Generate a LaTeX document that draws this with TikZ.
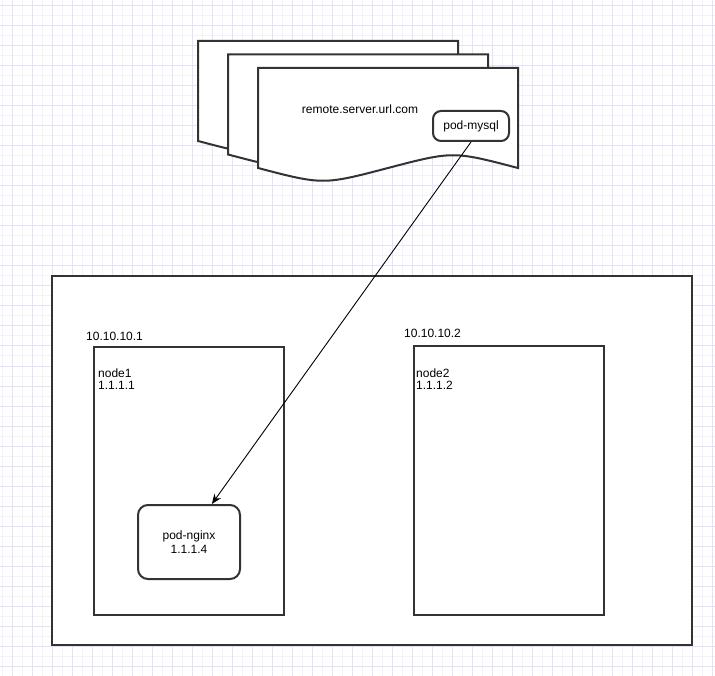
\documentclass[tikz,border=0pt]{standalone}
\usepackage{fontspec}
\setmainfont{Liberation Sans}
\usepackage{tikz}
\usetikzlibrary{
  arrows.meta,
  calc
}
\definecolor{gridmaj}{RGB}{226, 226, 250}
\definecolor{gridmin}{RGB}{242, 242, 252}
\definecolor{boxline}{RGB}{51, 51, 51}
\tikzset{
  % Background grid
  gridminor/.style = {draw=gridmin, line width=1pt},
  gridmajor/.style = {draw=gridmaj, line width=1pt},
  % Boxes
  hostbox/.style   = {draw=boxline, line width=2pt, fill=white, inner sep=0pt},
  podbox/.style    = {draw=boxline, line width=2pt, fill=white, rounded corners=10pt,
                      inner sep=0pt, align=center, font=\fontsize{12}{14}\selectfont},
  docsheet/.style  = {draw=boxline, line width=2pt, fill=white, line join=miter},
  % Arrow
  linkarrow/.style = {-{Stealth[length=10pt, width=8pt]}, line width=0.9pt, black},
  % Labels
  lab/.style       = {font=\fontsize{12}{12.5}\selectfont, inner sep=0pt, align=left},
}
\begin{document}
\begin{tikzpicture}[x=1pt, y=-1pt]
  \fill[white] (0,0) rectangle (715,676);
  \useasboundingbox (0,0) rectangle (715,676);
  % Grid
  \foreach \x in {2.7,22.7,...,715} \draw[gridminor] (\x,0) -- (\x,676);
  \foreach \y in {16,36,...,676} \draw[gridminor] (0,\y) -- (715,\y);
  \foreach \x in {12.7,32.7,...,715} \draw[gridmajor] (\x,0) -- (\x,676);
  \foreach \y in {6,26,...,676} \draw[gridmajor] (0,\y) -- (715,\y);
  % Remote server pages
  \foreach \dx/\dy in {-60/-27, -30/-13.5, 0/0}
    \draw[docsheet, shift={(\dx,\dy)}] (258,68) -- (518,68) -- (518,168)
      .. controls (453,151) .. (388,168) .. controls (323,185) .. (258,168) -- cycle;
  \node[lab, anchor=base] (remote) at (360,114) {remote.server.url.com};
  \node[podbox, minimum width=76pt, minimum height=30pt, rounded corners=8pt] (mysql)
    at (471,126) {pod-mysql};
  % Cluster and hosts
  \node[hostbox, minimum width=640pt, minimum height=369pt] (cluster) at (372,460.5) {};
  \node[hostbox, minimum width=190pt, minimum height=268pt] (node1) at (189,481) {};
  \node[hostbox, minimum width=190pt, minimum height=269pt] (node2) at (509,480.5) {};
  \node[lab, anchor=base west] (ip1) at (86,340.5) {10.10.10.1};
  \node[lab, anchor=base west] (ip2) at (404,337.5) {10.10.10.2};
  \node[lab, anchor=north west] (name1) at (98,368.5) {node1\\1.1.1.1};
  \node[lab, anchor=north west] (name2) at (416,368.5) {node2\\1.1.1.2};
  % Pod
  \node[podbox, minimum width=102pt, minimum height=74pt] (nginx) at (189,542)
    {pod-nginx\\1.1.1.4};
  % Link
  \draw[linkarrow] (mysql.south) -- ($(nginx.north west)!0.72!(nginx.north east)$);
\end{tikzpicture}
\end{document}
